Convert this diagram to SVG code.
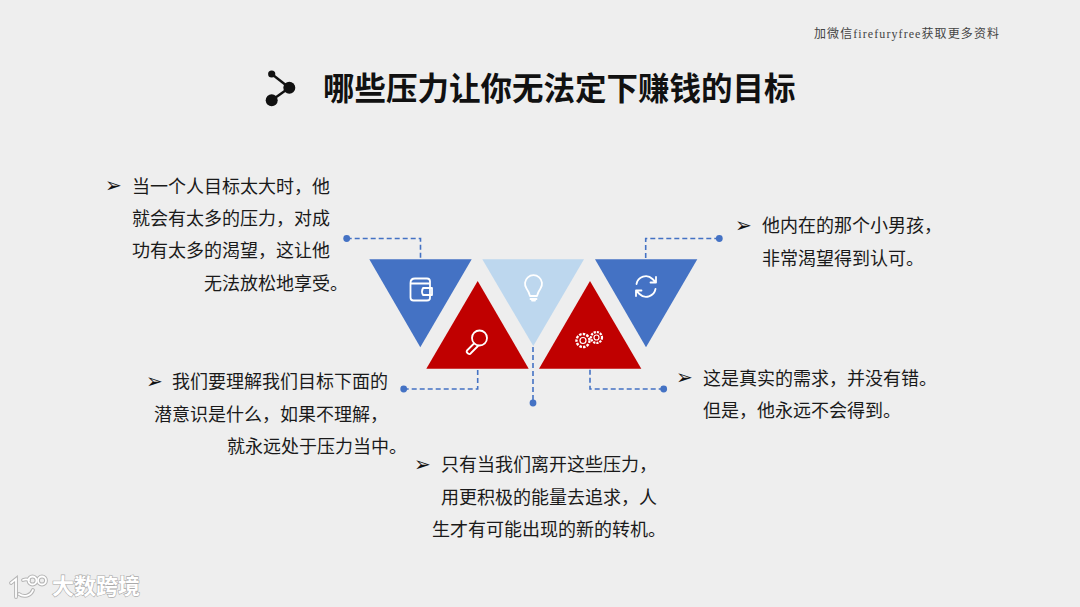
<svg xmlns="http://www.w3.org/2000/svg" width="1080" height="607" viewBox="0 0 1080 607">
<defs>
<style>
text{font-family:"Noto Sans CJK SC","Liberation Sans",sans-serif;fill:#1a1a1a}
.b{font-size:18px}
.a{font-size:20px;font-family:"DejaVu Sans",sans-serif;fill:#111}
.c{fill:none;stroke:#4472c4;stroke-width:1.6;stroke-dasharray:5 3}
.d{fill:#4472c4}
.i{fill:none;stroke:#fff;stroke-width:1.8;stroke-linecap:round;stroke-linejoin:round}
</style>
</defs>
<rect width="1080" height="607" fill="#eeeeee"/>
<text id="note" x="814" y="38" font-size="12" style="font-family:'Liberation Serif','Noto Sans CJK SC',serif;fill:#444" textLength="185" lengthAdjust="spacing">加微信firefuryfree获取更多资料</text>
<g id="title">
<g stroke="#111" stroke-width="2.4"><line x1="271.7" y1="74" x2="289.3" y2="87.7"/><line x1="289.3" y1="87.7" x2="271.7" y2="100.3"/></g>
<g fill="#111"><circle cx="271.7" cy="74" r="3.6"/><circle cx="289.3" cy="87.7" r="6"/><circle cx="271.7" cy="100.3" r="6"/></g>
<text x="323" y="100" font-size="31.5" font-weight="700" style="fill:#111">哪些压力让你无法定下赚钱的目标</text>
</g>
<g id="connectors">
<path class="c" d="M346.7 238.5H420.5V259"/>
<path class="c" d="M719.3 238.5H645.7V259"/>
<path class="c" d="M403.7 389H477.7V369"/>
<path class="c" d="M663.7 389H590V369"/>
<path class="c" d="M533 347V403"/>
<circle class="d" cx="346.7" cy="238.5" r="3.4"/>
<circle class="d" cx="719.3" cy="238.5" r="3.4"/>
<circle class="d" cx="403.7" cy="389" r="3.4"/>
<circle class="d" cx="663.7" cy="389" r="3.4"/>
<circle class="d" cx="533" cy="403" r="3.4"/>
</g>
<g id="node-wallet">
<polygon points="369.3,259.300 471.700,259.300 420.300,347.300" fill="#4472c4"/>
<path class="i" d="M410.500 283q0-4.500 4.500-4.500h12q3 0 3 3v16.500q0 2.500-3 2.500h-13.500q-3 0-3-3z M411 283.500h19 M423 288h9v7h-9q-2-3.500 0-7z"/>
</g>
<g id="node-bulb">
<polygon points="482.300,259.300 584,259.300 533.300,346" fill="#bdd7ee"/>
<path class="i" d="M530 296q-1-4-3.500-7.500a8.500 8.500 0 1 1 14 0q-2.500 3.500-3.500 7.500z M530.500 299h6 M532 300.500h3"/>
</g>
<g id="node-refresh">
<polygon points="595,259.300 697.300,259.300 646,347.300" fill="#4472c4"/>
<path class="i" d="M636.500 284a9.500 9.500 0 0 1 16-5l3 3 M655.500 289a9.500 9.500 0 0 1-16 5l-3-3 M656 277v5.500h-5.500 M636 296v-5.500h5.500"/>
</g>
<g id="node-search">
<polygon points="477.700,281 426.300,368.700 528.700,368.700" fill="#c00000"/>
<circle class="i" cx="479.500" cy="338" r="7.500"/>
<path class="i" d="M474 343.500l-7 7q-1 1.500 1 3t3-.5l7-7"/>
</g>
<g id="node-gears">
<polygon points="590,281 539,368.700 641.300,368.700" fill="#c00000"/>
<g class="i" style="stroke-width:1.200">
<circle cx="583" cy="340.500" r="3"/><circle cx="583" cy="340.500" r="6.500" stroke-dasharray="2.500 1.200" stroke-width="2.400" stroke-linecap="butt"/>
<circle cx="596.500" cy="337.500" r="2.500"/><circle cx="596.500" cy="337.500" r="5.500" stroke-dasharray="2.200 1" stroke-width="2.200" stroke-linecap="butt"/>
</g>
</g>
<g id="text-1">
<text class="a" x="105" y="192">➢</text>
<text class="b" x="132" y="193">当一个人目标太大时，他</text>
<text class="b" x="132" y="225">就会有太多的压力，对成</text>
<text class="b" x="132" y="257">功有太多的渴望，这让他</text>
<text class="b" x="204" y="290">无法放松地享受。</text>
</g>
<g id="text-2">
<text class="a" x="735" y="232">➢</text>
<text class="b" x="762" y="232">他内在的那个小男孩，</text>
<text class="b" x="762" y="265">非常渴望得到认可。</text>
</g>
<g id="text-3">
<text class="a" x="146" y="388">➢</text>
<text class="b" x="172" y="388">我们要理解我们目标下面的</text>
<text class="b" x="154" y="421">潜意识是什么，如果不理解，</text>
<text class="b" x="227" y="453">就永远处于压力当中。</text>
</g>
<g id="text-4">
<text class="a" x="676" y="384">➢</text>
<text class="b" x="703" y="385">这是真实的需求，并没有错。</text>
<text class="b" x="703" y="417">但是，他永远不会得到。</text>
</g>
<g id="text-5">
<text class="a" x="414" y="471">➢</text>
<text class="b" x="441" y="471">只有当我们离开这些压力，</text>
<text class="b" x="441" y="504">用更积极的能量去追求，人</text>
<text class="b" x="432" y="536">生才有可能出现的新的转机。</text>
</g>
<g id="watermark">
<g fill="none" stroke="#b5b5b5" stroke-width="3.800" stroke-linecap="round"><path d="M11 583l5-4v18M33 590a9 9 0 0 1-14 4M23 580a9 9 0 0 1 6 0"/><circle cx="32.500" cy="580.500" r="4"/><circle cx="42" cy="580.500" r="4"/></g>
<g fill="none" stroke="#fff" stroke-width="1.800" stroke-linecap="round"><path d="M11 583l5-4v18M33 590a9 9 0 0 1-14 4M23 580a9 9 0 0 1 6 0"/><circle cx="32.500" cy="580.500" r="4"/><circle cx="42" cy="580.500" r="4"/></g>
<text x="52" y="594" font-size="22" font-weight="700" style="fill:#fff;stroke:#aaa;stroke-width:1.200;paint-order:stroke" textLength="88">大数跨境</text>
</g>
</svg>
